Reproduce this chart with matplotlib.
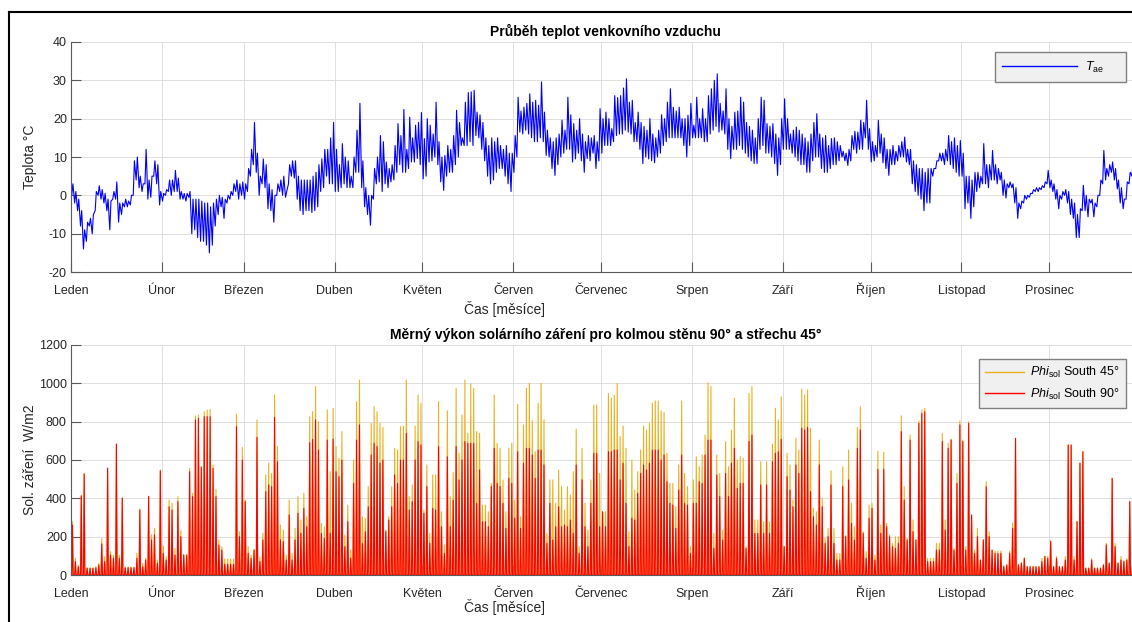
import numpy as np
import matplotlib
matplotlib.use("Agg")
import matplotlib.pyplot as plt
from matplotlib.lines import Line2D

plt.rcParams['font.family'] = ['Liberation Sans', 'DejaVu Sans']
plt.rcParams['mathtext.fontset'] = 'custom'
plt.rcParams['mathtext.rm'] = 'Liberation Sans'
plt.rcParams['mathtext.it'] = 'Liberation Sans:italic'
plt.rcParams['axes.unicode_minus'] = False

# month names and the day of year each month starts on
months = ['Leden', 'Únor', 'Březen', 'Duben', 'Květen', 'Červen',
          'Červenec', 'Srpen', 'Září', 'Říjen', 'Listopad', 'Prosinec']
month_start = [0, 31, 59, 90, 120, 151, 181, 212, 243, 273, 304, 334]

# daily minimum / maximum outdoor air temperature [°C]
t_min = [
    0, -2, -4, -8, -14, -12, -8, -10, -4, 0,
    -1, -2, -4, -9, -1, -1, -7, -5, -3, -3,
    -2.5, 0, 4, 2, 1, 3, -1, -0.5, 5, 3,
    -2.5, -1.5, 0, 1, 0, 1, 1, -1, -1, -1.5,
    -0.5, -10, -9, -11, -12, -12, -13, -15, -13, -8,
    -5, -3, -6, -2, -1, 0, 1, -1, 0, -1,
    1, 5, 8, 6, 0, 3, 2, -3.5, -4, -7,
    0, 1, 0, -0.5, 3, 5, 4.5, -1, -4, -5,
    -4, -4, -4.5, -4, -3, 1, 2, 5, 3, 3,
    1, 1, 2, 3, 2, 2, 2, 6, 6, 2,
    -3, -5, -7.8, -1, 3, 3.5, 1, 3, 2, 3.5,
    4, 6, 8, 6, 6, 7, 8.7, 8.7, 9.6, 8,
    4.3, 5, 8.7, 9, 10, 8, 3.5, 1.3, 5, 6,
    6, 8, 10, 13, 13, 13, 14, 13, 15.6, 15,
    12, 9, 5, 3, 4, 6, 7, 7, 5, 3,
    1, 6, 10, 16.5, 16, 17, 16, 15, 14, 14,
    15, 14, 10.4, 10, 7, 5.2, 8, 10, 11, 12,
    12, 8.7, 9.5, 11, 9, 6, 9.6, 9, 11, 7,
    9, 11, 13, 13, 13, 14, 15.6, 16, 16, 17,
    16.5, 16, 14, 14, 12, 8.3, 10, 9.5, 9, 8.5,
    10, 11, 13, 14, 15, 15, 15, 15, 15, 13,
    10, 13, 15, 15, 15, 15, 14, 14, 16, 17,
    18, 16.5, 17, 16, 12, 9.6, 12, 12, 13, 12,
    11, 10, 9, 8.3, 8.3, 12, 13, 11, 11, 10,
    8.3, 5.2, 8, 12, 12, 12, 11, 10, 9, 8,
    8, 6, 6, 9, 10, 10, 7, 6, 6, 7,
    8, 8, 9, 10, 9, 7.8, 9, 12, 11, 12,
    12, 15, 12, 8.7, 9, 10, 11, 8.5, 7, 5.2,
    8, 8, 9, 10, 10, 8.7, 8, 3, 1, 0,
    -1, -4, -2, -2, 5, 7, 9, 9, 8, 9,
    8, 7, 6, 5, 5, -3.5, -2, -6, -3, 1,
    2, 3, 3, 2, 4, 4, 3, 4, 0, -0.7,
    2, 2, -2, -6, -3.5, -2, -1, -0.5, 0.5, 1,
    1, 1.5, 2, 3, 2, 1, -1, -3.5, -1, 0,
    -2, -5, -6, -11, -11, -4, -4, -5.6, -2, -5.6,
    -3, 0, 3, 4, 5, 6, 4, 1.7, -2, -3.5,
    -1, 3, 5, 8, 8,
]
t_max = [
    3, 1, -1, -4, -9, -7, -6, -5, 1, 2.5,
    1.5, 0.5, -1, -1.5, 1, 3.5, -2, -2, -1, -1.5,
    0, 9, 10, 5, 3, 12, 4, 5, 9, 8,
    1, 0.5, 1.5, 4, 4, 6.5, 4.5, 1, 0.5, 0.5,
    1, -1, -1, -1, -1.5, -2, -2, -3, -2, -1,
    0, -0.5, -1, 0, 1, 3, 4, 3, 3.5, 3,
    7, 12, 19, 11, 5, 9.5, 8, 3, 1.5, 0,
    3, 4, 5, 1, 8, 9, 9, 5, 4, 4,
    4, 4, 5, 6, 8, 9.5, 12, 12, 15, 19,
    12, 8, 13.5, 10, 9, 5, 10, 17, 24, 9,
    2, 0, 0, 7, 10, 15.6, 14, 8.7, 7, 8,
    13, 18.7, 15.6, 22.4, 12, 20.4, 15, 18.3, 19, 21.6,
    14.8, 20, 18.3, 16, 24.3, 14, 10, 10.4, 13, 12,
    15.6, 22.2, 19, 15, 24.3, 26.8, 27, 27.4, 21.7, 21,
    19, 15, 13, 15, 14, 15, 13, 12, 13, 11,
    11, 15.6, 25.6, 22, 23, 24, 26.5, 24.3, 24.8, 23.5,
    29.6, 21.7, 17, 15, 14, 15, 16, 19.6, 17, 25.6,
    21, 18.7, 17, 20, 16, 14, 15.6, 15, 15.6, 14,
    22.6, 20, 21.7, 20, 17.4, 26, 25.5, 26, 28, 30.4,
    24.3, 24.8, 19, 21.7, 19, 18, 17, 20, 16, 15,
    17, 21, 20, 24.3, 27.8, 23, 22, 23, 20, 20,
    20.9, 24, 18.3, 25.6, 20, 22.6, 20, 26, 27.8, 30,
    31.7, 24, 22, 27.8, 20, 18, 21.7, 22, 25.6, 24.3,
    19, 18, 17, 15, 20, 25.6, 24.8, 18.7, 18, 18.7,
    16, 15, 20, 25.2, 20, 16, 17, 17.8, 17, 16,
    15, 14, 16, 19, 21.3, 16, 15, 15.6, 13, 14.8,
    15, 14, 13, 11.5, 11, 12, 15.6, 16.7, 16.5, 19.6,
    19, 24.8, 17.4, 14, 13, 19.6, 16, 15, 12, 12,
    13, 11.5, 13, 14, 15.2, 12, 12, 9, 8, 7,
    7, 6, 7, 7, 7, 9, 11, 11, 12, 15.6,
    14, 15, 13, 14.3, 11, 5, 5, 4, 6, 6,
    5, 13.5, 8, 8, 11.7, 8, 7, 6, 4, 3,
    3.5, 3, 2, -2, -1.5, 0, 0, 0.5, 1.5, 2,
    2, 2.5, 3.5, 6.5, 4, 3, 1.5, 0, 1, 1.5,
    1, -1, -2, -5, -3.5, 2.6, 0, -1, -1, -2,
    0, 4, 11.7, 7, 8, 8.7, 7, 4, 2, -1,
    3.5, 6, 8.7, 9, 9,
]

# daily peak of specific solar power [W/m2], roof 45° and south wall 90°
sol_45 = [
    278, 87, 52, 417, 530, 38, 38, 38, 42, 60,
    190, 95, 560, 122, 104, 685, 104, 405, 42, 42,
    42, 42, 113, 345, 60, 87, 412, 209, 243, 78,
    548, 151, 96, 391, 374, 139, 409, 231, 108, 108,
    556, 426, 830, 835, 565, 852, 861, 864, 574, 447,
    183, 148, 83, 83, 83, 83, 840, 226, 666, 391,
    148, 104, 134, 809, 95, 217, 522, 583, 530, 939,
    670, 261, 235, 104, 391, 113, 243, 409, 287, 426,
    304, 826, 852, 983, 800, 270, 250, 861, 539, 870,
    670, 609, 748, 209, 365, 130, 600, 904, 1017, 304,
    296, 461, 791, 878, 852, 791, 770, 235, 304, 461,
    661, 652, 774, 777, 1017, 409, 470, 777, 939, 896,
    339, 574, 217, 522, 522, 904, 330, 157, 857, 409,
    534, 974, 635, 835, 1017, 739, 996, 974, 748, 739,
    365, 365, 330, 478, 939, 687, 661, 496, 330, 661,
    687, 391, 891, 304, 783, 974, 1000, 805, 643, 896,
    1000, 809, 217, 496, 496, 374, 548, 461, 339, 461,
    417, 539, 760, 148, 661, 374, 235, 496, 887, 887,
    530, 330, 330, 948, 922, 939, 1000, 722, 777, 661,
    226, 600, 443, 539, 652, 777, 756, 791, 896, 908,
    908, 856, 847, 635, 478, 478, 356, 574, 908, 530,
    461, 148, 496, 617, 565, 626, 730, 1003, 983, 217,
    626, 530, 235, 696, 565, 756, 922, 600, 617, 609,
    148, 948, 983, 287, 287, 591, 278, 591, 278, 682,
    870, 809, 930, 150, 635, 574, 391, 713, 652, 970,
    939, 965, 765, 348, 330, 704, 400, 191, 243, 544,
    243, 113, 113, 565, 205, 652, 374, 252, 770, 878,
    226, 122, 365, 374, 104, 647, 261, 640, 270, 209,
    165, 200, 200, 830, 461, 191, 730, 287, 185, 803,
    861, 870, 87, 87, 87, 165, 165, 739, 287, 687,
    709, 139, 530, 803, 704, 148, 800, 313, 130, 243,
    78, 183, 487, 226, 130, 125, 125, 125, 50, 55,
    125, 270, 713, 55, 65, 90, 45, 45, 45, 45,
    45, 87, 100, 96, 180, 45, 96, 45, 45, 96,
    680, 680, 96, 280, 585, 645, 38, 38, 85, 38,
    38, 38, 55, 165, 65, 505, 165, 65, 96, 75,
    85, 385, 75, 38, 38,
]
sol_90 = [
    260, 70, 43, 412, 527, 35, 35, 35, 38, 52,
    162, 70, 556, 104, 87, 682, 87, 400, 38, 38,
    38, 38, 87, 339, 43, 78, 409, 183, 209, 61,
    543, 113, 78, 356, 339, 104, 383, 200, 104, 104,
    539, 409, 809, 817, 562, 826, 826, 826, 556, 409,
    156, 130, 56, 56, 56, 56, 774, 200, 600, 383,
    113, 87, 130, 718, 70, 183, 435, 470, 461, 822,
    591, 183, 174, 78, 313, 78, 183, 322, 217, 348,
    252, 690, 708, 809, 652, 217, 191, 704, 217, 708,
    539, 513, 600, 148, 278, 87, 478, 704, 783, 165,
    226, 356, 626, 687, 670, 583, 600, 226, 287, 356,
    522, 478, 600, 600, 739, 339, 383, 600, 696, 678,
    322, 461, 165, 348, 339, 670, 252, 113, 617, 252,
    391, 670, 496, 600, 696, 687, 687, 687, 374, 548,
    278, 278, 252, 461, 661, 478, 461, 374, 243, 504,
    478, 296, 643, 243, 583, 661, 661, 626, 504, 652,
    652, 574, 165, 374, 183, 252, 356, 252, 261, 252,
    287, 217, 574, 113, 496, 252, 148, 374, 635, 635,
    252, 330, 252, 643, 643, 652, 652, 496, 583, 374,
    148, 296, 287, 426, 530, 574, 548, 583, 652, 652,
    652, 600, 626, 487, 374, 365, 243, 443, 626, 374,
    365, 113, 374, 374, 487, 478, 626, 704, 704, 139,
    522, 409, 183, 530, 409, 583, 661, 452, 478, 478,
    139, 696, 730, 217, 217, 470, 217, 470, 217, 591,
    635, 643, 708, 148, 513, 443, 356, 574, 530, 765,
    757, 770, 435, 304, 261, 574, 356, 165, 200, 470,
    165, 78, 78, 461, 200, 496, 270, 183, 661, 757,
    217, 87, 296, 348, 78, 551, 217, 551, 252, 200,
    148, 139, 165, 748, 391, 183, 704, 226, 183, 791,
    843, 852, 70, 70, 70, 130, 130, 696, 235, 661,
    704, 130, 478, 783, 696, 130, 791, 313, 113, 200,
    78, 183, 461, 200, 130, 113, 113, 113, 43, 52,
    113, 243, 713, 52, 61, 87, 43, 43, 43, 43,
    43, 70, 96, 87, 174, 43, 87, 43, 43, 78,
    678, 678, 78, 278, 583, 643, 35, 35, 78, 35,
    35, 35, 52, 157, 61, 504, 148, 61, 78, 70,
    78, 383, 70, 35, 35,
]

W, H = 1132, 622
fig = plt.figure(figsize=(W / 100, H / 100), dpi=100)


def px_axes(left, top, right, bottom):
    return fig.add_axes([left / W, 1 - bottom / H, (right - left) / W, (bottom - top) / H])


def matlab_style(ax, ylim, yticks):
    ax.set_xlim(0, 365)
    ax.set_ylim(*ylim)
    ax.set_xticks(month_start)
    ax.set_xticklabels(months, va='baseline')
    ax.set_yticks(yticks)
    for s in ['top', 'right']:
        ax.spines[s].set_visible(False)
    for s in ['left', 'bottom']:
        ax.spines[s].set_color('#5a5a5a')
        ax.spines[s].set_linewidth(0.8)
    ax.tick_params(direction='in', length=7.5, width=0.8, color='#5a5a5a',
                   labelsize=9, labelcolor='#262626')
    ax.tick_params(axis='x', pad=15.5)
    ax.tick_params(axis='y', pad=3)
    ax.grid(True, color='#dedede', linewidth=0.7)
    ax.set_axisbelow(True)


def boxed_legend(ax, top, **kw):
    leg = ax.legend(loc='upper right', bbox_to_anchor=(1126 / W, 1 - top / H),
                    bbox_transform=fig.transFigure, borderaxespad=0, fancybox=False,
                    edgecolor='#808080', facecolor='#f0f0f0', framealpha=1,
                    fontsize=9, **kw)
    for line in leg.get_lines():
        line.set_linewidth(1.0)
    return leg


days = np.arange(365)

# temperature: minimum early in the morning, maximum in the afternoon
ax1 = px_axes(71, 42, 1140, 272)
tx = np.column_stack([days + 0.25, days + 0.65]).ravel()
ty = np.column_stack([t_min, t_max]).ravel()
ax1.plot(tx, ty, color='#0000ff', linewidth=0.8, label=r'$T_{\rm ae}$' + '     ')
matlab_style(ax1, (-20, 40), range(-20, 41, 10))
ax1.set_title('Průběh teplot venkovního vzduchu', fontsize=10, fontweight='bold', pad=4)
ax1.set_ylabel('Teplota °C', fontsize=10, color='#262626')
ax1.yaxis.set_label_coords((37 - 71) / 1069, 0.5)
ax1.set_xlabel('Čas [měsíce]', fontsize=10, color='#262626')
ax1.xaxis.set_label_coords((505 - 71) / 1069, (272 - 301) / 230)
boxed_legend(ax1, 52, handlelength=6, handletextpad=0.6, borderpad=0.6)

# solar power: zero at night, daily peak at noon
ax2 = px_axes(71, 345, 1140, 575)
zeros = np.zeros(365)
sx = np.column_stack([days + 0.26, days + 0.5, days + 0.74]).ravel()
ax2.plot(sx, np.column_stack([zeros, sol_45, zeros]).ravel(), color='#edb120',
         linewidth=0.8, label=r'$Phi_{\rm sol}$ South 45°')
ax2.plot(sx, np.column_stack([zeros, sol_90, zeros]).ravel(), color='#ff0000',
         linewidth=0.8, label=r'$Phi_{\rm sol}$ South 90°')
matlab_style(ax2, (0, 1200), range(0, 1201, 200))
ax2.set_title('Měrný výkon solárního záření pro kolmou stěnu 90° a střechu 45°',
              fontsize=10, fontweight='bold', pad=4)
ax2.set_ylabel('Sol. záření  W/m2', fontsize=10, color='#262626')
ax2.yaxis.set_label_coords((37 - 71) / 1069, 0.5)
ax2.set_xlabel('Čas [měsíce]', fontsize=10, color='#262626')
ax2.xaxis.set_label_coords((505 - 71) / 1069, (575 - 599) / 230)
boxed_legend(ax2, 359, handlelength=3.1, handletextpad=0.5, borderpad=0.5,
             labelspacing=0.5)

# frame around the whole figure
fig.add_artist(Line2D([9 / W, 1], [1 - 12 / H, 1 - 12 / H], transform=fig.transFigure,
                      color='black', linewidth=1.5))
fig.add_artist(Line2D([9 / W, 9 / W], [0, 1 - 12 / H], transform=fig.transFigure,
                      color='black', linewidth=1.5))

fig.savefig('out.png', dpi=100)
